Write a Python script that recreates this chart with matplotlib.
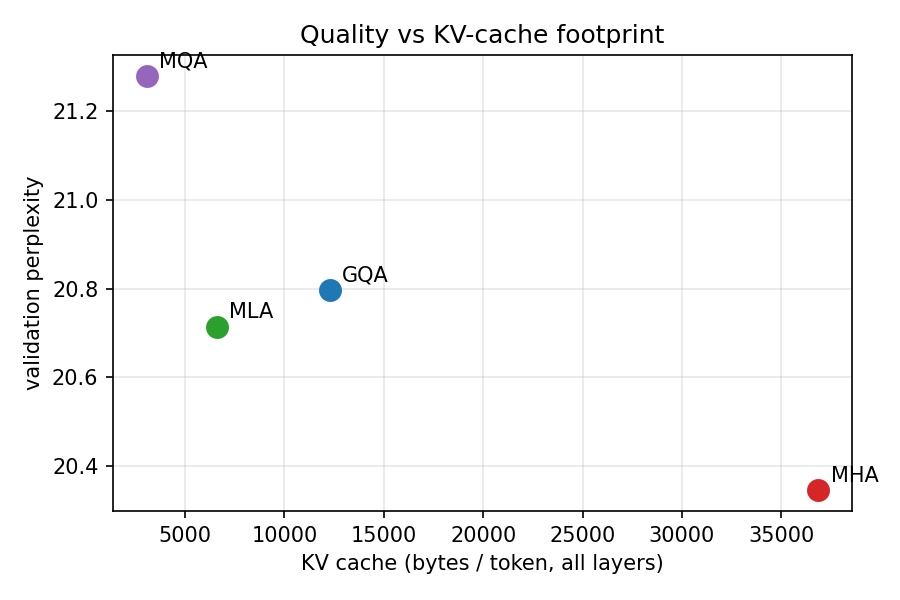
import matplotlib
matplotlib.use("Agg")
import matplotlib.pyplot as plt

methods = ["MHA", "GQA", "MQA", "MLA"]
kv_bytes = [36864, 12288, 3072, 6600]
perplexity = [20.345, 20.797, 21.280, 20.714]
colors = ["#d62728", "#1f77b4", "#9467bd", "#2ca02c"]

fig, ax = plt.subplots(figsize=(6, 4), dpi=150)
for m, x, y, c in zip(methods, kv_bytes, perplexity, colors):
    ax.scatter(x, y, s=100, color=c, zorder=3)
    ax.annotate(m, (x, y), xytext=(6, 4), textcoords="offset points")
ax.set_xlabel("KV cache (bytes / token, all layers)")
ax.set_ylabel("validation perplexity")
ax.set_title("Quality vs KV-cache footprint")
ax.grid(True, alpha=0.3)
fig.subplots_adjust(left=0.1256, right=0.9467, top=0.9083, bottom=0.1483)
fig.savefig("out.png", dpi=150)
